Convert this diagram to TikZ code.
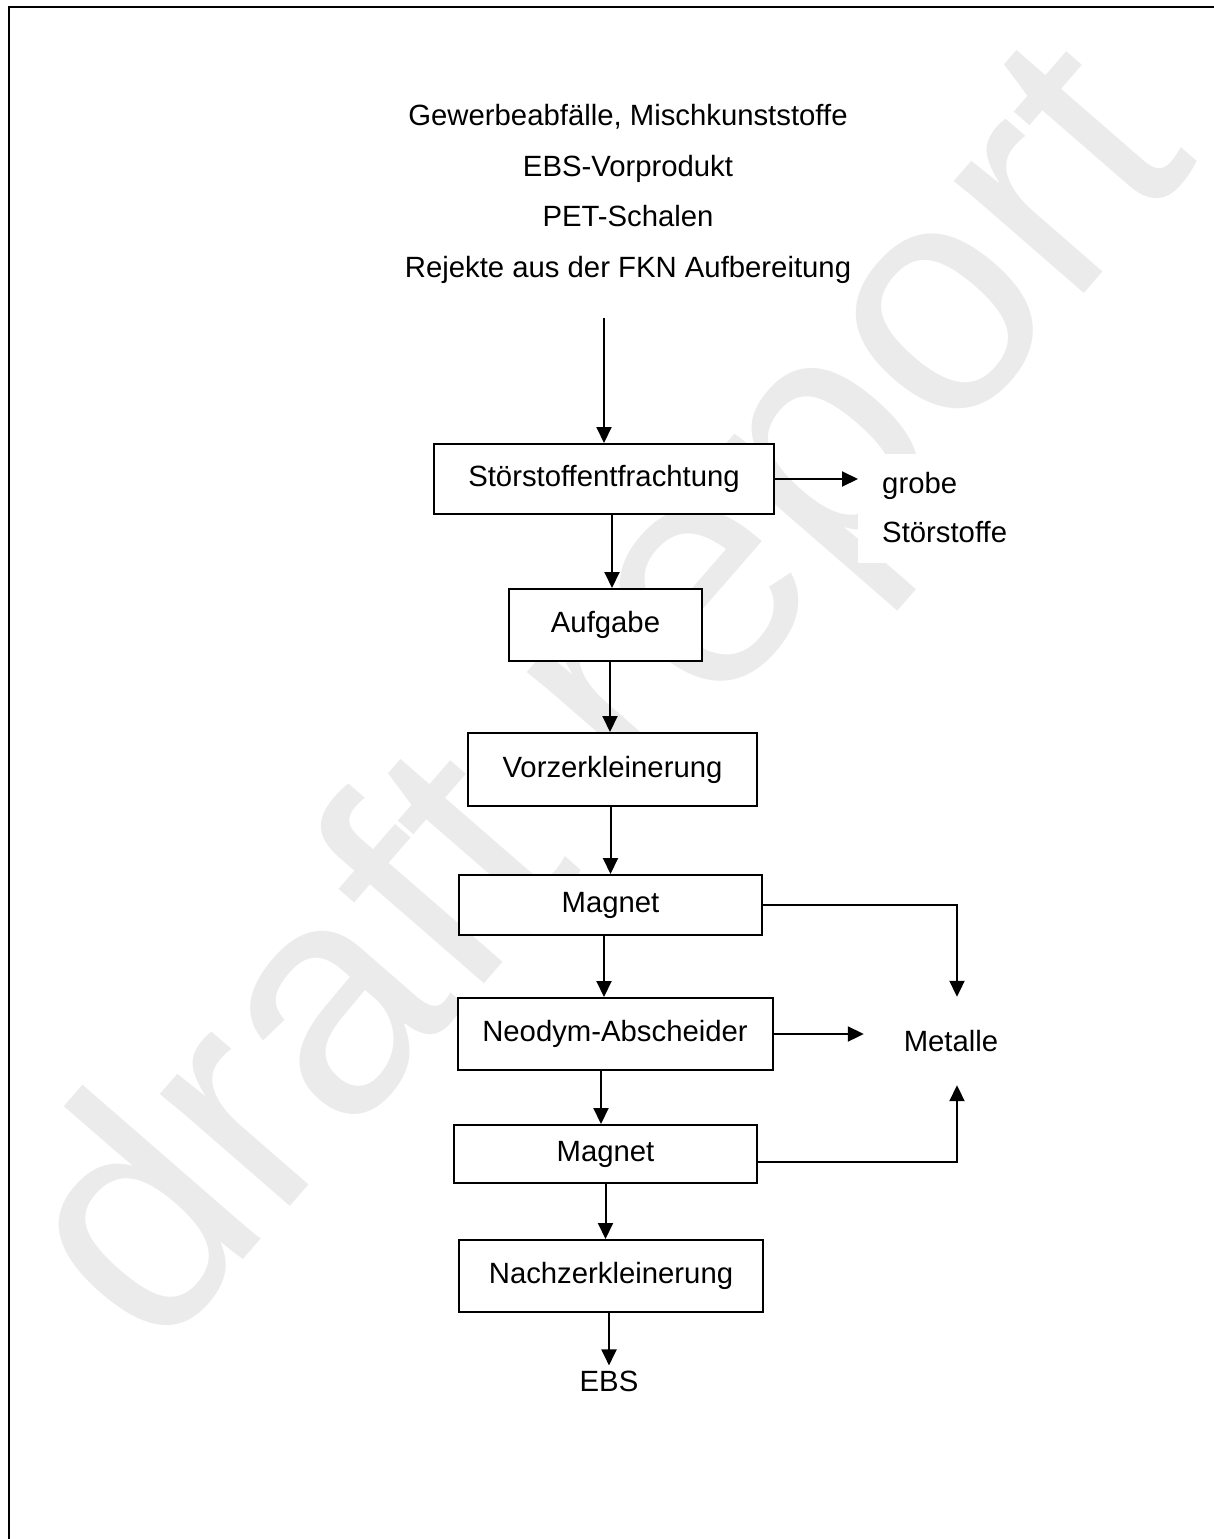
\documentclass[tikz,border=0pt]{standalone}
\usepackage{fontspec}
\setmainfont{Liberation Sans}
\usetikzlibrary{arrows.meta}

\begin{document}
\begin{tikzpicture}[
    x=1pt, y=-1pt,
    every node/.style={font=\fontsize{29.3}{35}\selectfont},
    proc/.style={draw, line width=2pt, fill=white, align=center, inner sep=0pt},
    txt/.style={inner sep=0pt},
    arrow/.style={-{Triangle[length=16pt, width=15pt]}, line width=2pt}
]
    \useasboundingbox (0,0) rectangle (1214,1539);
    \node[txt, rotate=49, text=black!8, font=\fontsize{325}{325}\selectfont] (wm) at (615,705) {draft report};
    \draw[line width=2.5pt] (9,1539) -- (9,7) -- (1214,7);

    \node[txt, align=center, font=\fontsize{29.3}{50.7}\selectfont] (input) at (628,194) {Gewerbeabfälle, Mischkunststoffe\\
        EBS-Vorprodukt\\
        PET-Schalen\\
        Rejekte aus der FKN Aufbereitung};
    \node[proc, minimum width=340pt, minimum height=70pt] (stoer) at (604,479) {Störstoffentfrachtung};
    \node[proc, minimum width=193pt, minimum height=72pt] (aufgabe) at (605.5,625) {Aufgabe};
    \node[proc, minimum width=289pt, minimum height=73pt] (vorzer) at (612.5,769.5) {Vorzerkleinerung};
    \node[proc, minimum width=303pt, minimum height=60pt] (magnetA) at (610.5,905) {Magnet};
    \node[proc, minimum width=315pt, minimum height=72pt] (neodym) at (615,1034) {Neodym-Abscheider};
    \node[proc, minimum width=303pt, minimum height=58pt] (magnetB) at (605.5,1154) {Magnet};
    \node[proc, minimum width=304pt, minimum height=72pt] (nachzer) at (611,1276) {Nachzerkleinerung};
    \node[txt, anchor=west, align=left, fill=white, inner xsep=24pt, minimum height=109pt, font=\fontsize{29.3}{49}\selectfont] (grobe) at (858,508) {grobe\\Störstoffe};
    \node[txt, minimum width=174pt, minimum height=88pt] (metalle) at (951,1041) {Metalle};
    \node[txt, inner sep=5pt] (ebs) at (609,1381) {EBS};

    \draw[arrow, shorten <=34pt] (input.south -| stoer.north) -- (stoer.north);
    \draw[arrow] (stoer.east) -- (stoer.east -| grobe.west);
    \draw[arrow] ([xshift=8pt]stoer.south) -- ([xshift=8pt]stoer.south |- aufgabe.north);
    \draw[arrow] ([xshift=4.5pt]aufgabe.south) -- ([xshift=4.5pt]aufgabe.south |- vorzer.north);
    \draw[arrow] (magnetA.north |- vorzer.south) -- (magnetA.north);
    \draw[arrow] ([xshift=-6.5pt]magnetA.south) -- ([xshift=-6.5pt]magnetA.south |- neodym.north);
    \draw[arrow] ([xshift=-14pt]neodym.south) -- ([xshift=-14pt]neodym.south |- magnetB.north);
    \draw[arrow] (magnetB.south) -- (magnetB.south |- nachzer.north);
    \draw[arrow] (nachzer.south -| ebs.north) -- (ebs.north);
    \draw[arrow] (magnetA.east) -| ([xshift=6pt]metalle.north);
    \draw[arrow] (neodym.east) -- (neodym.east -| metalle.west);
    \draw[arrow] ([yshift=-8pt]magnetB.east) -| ([xshift=6pt]metalle.south);
\end{tikzpicture}
\end{document}
